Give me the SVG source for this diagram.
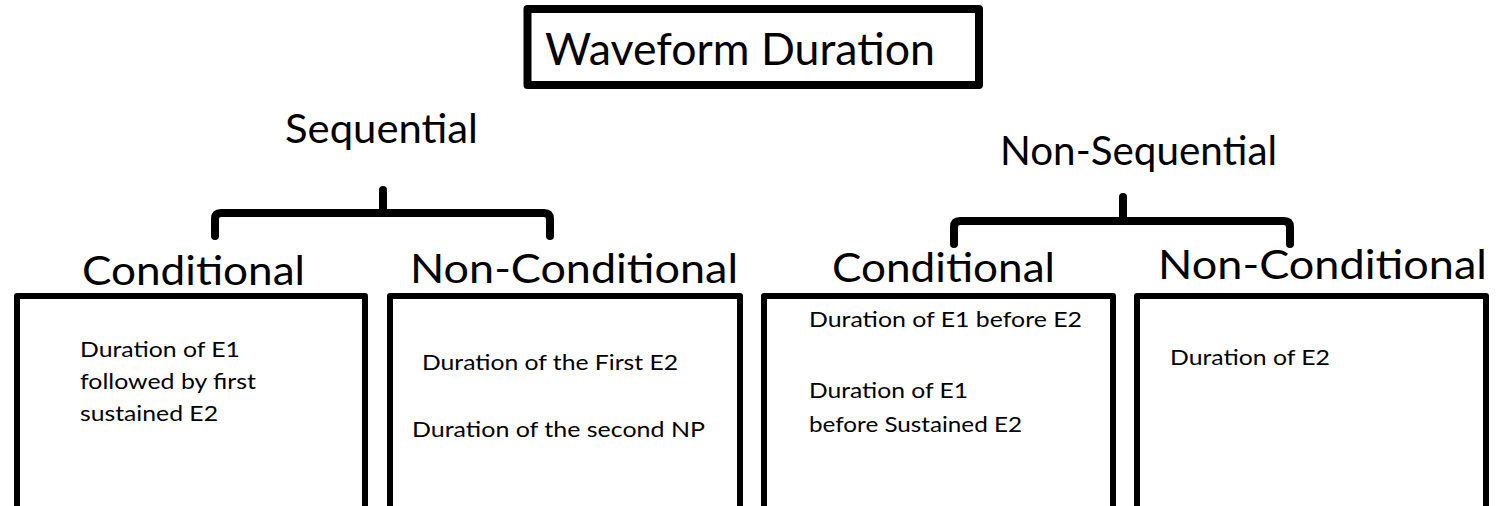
<svg xmlns="http://www.w3.org/2000/svg" width="1500" height="506" viewBox="0 0 1500 506">
<style>
text{font-family:"Lato","Open Sans","Liberation Sans",sans-serif;fill:#000}
.big{font-size:44px}
.head{font-size:40px}
.lab{font-size:41px}
.small{font-size:21px}
.box{fill:#fff;stroke:#000;stroke-width:6;stroke-linejoin:round}
.brace{fill:none;stroke:#000;stroke-width:8;stroke-linecap:round;stroke-linejoin:round}
</style>
<rect width="1500" height="506" fill="#fff"/>
<g id="title">
<rect x="527.5" y="9" width="451.5" height="76" fill="#fff" stroke="#000" stroke-width="8" stroke-linejoin="round"/>
<text class="big" x="545" y="65" textLength="390" lengthAdjust="spacingAndGlyphs">Waveform Duration</text>
</g>
<g id="sequential">
<text class="head" x="285" y="143" textLength="193" lengthAdjust="spacingAndGlyphs">Sequential</text>
</g>
<g id="non-sequential">
<text class="head" x="1000" y="165" textLength="277" lengthAdjust="spacingAndGlyphs">Non-Sequential</text>
</g>
<g id="connectors">
<path class="brace" d="M215,236 V219 Q215,213 221,213 H544 Q550,213 550,219 V236"/>
<path class="brace" d="M383,213 V190"/>
<path class="brace" d="M954,244 V227 Q954,221 960,221 H1284 Q1290,221 1290,227 V244"/>
<path class="brace" d="M1123,221 V197"/>
</g>
<g id="seq-conditional">
<text class="lab" x="82" y="285" textLength="223" lengthAdjust="spacingAndGlyphs">Conditional</text>
<rect class="box" x="17" y="296" width="348" height="220"/>
<text class="small" x="80" y="357" textLength="160" lengthAdjust="spacingAndGlyphs">Duration of E1</text>
<text class="small" x="80" y="389" textLength="176" lengthAdjust="spacingAndGlyphs">followed by first</text>
<text class="small" x="80" y="421" textLength="138" lengthAdjust="spacingAndGlyphs">sustained E2</text>
</g>
<g id="seq-nonconditional">
<text class="lab" x="410" y="283" textLength="328" lengthAdjust="spacingAndGlyphs">Non-Conditional</text>
<rect class="box" x="390" y="296" width="350" height="220"/>
<text class="small" x="422" y="370" textLength="256" lengthAdjust="spacingAndGlyphs">Duration of the First E2</text>
<text class="small" x="412" y="437" textLength="293" lengthAdjust="spacingAndGlyphs">Duration of the second NP</text>
</g>
<g id="nonseq-conditional">
<text class="lab" x="832" y="282" textLength="223" lengthAdjust="spacingAndGlyphs">Conditional</text>
<rect class="box" x="764" y="296" width="349" height="220"/>
<text class="small" x="809" y="327" textLength="273" lengthAdjust="spacingAndGlyphs">Duration of E1 before E2</text>
<text class="small" x="809" y="398" textLength="159" lengthAdjust="spacingAndGlyphs">Duration of E1</text>
<text class="small" x="809" y="432" textLength="213" lengthAdjust="spacingAndGlyphs">before Sustained E2</text>
</g>
<g id="nonseq-nonconditional">
<text class="lab" x="1158" y="279" textLength="329" lengthAdjust="spacingAndGlyphs">Non-Conditional</text>
<rect class="box" x="1137" y="296" width="349" height="220"/>
<text class="small" x="1170" y="365" textLength="160" lengthAdjust="spacingAndGlyphs">Duration of E2</text>
</g>
</svg>
